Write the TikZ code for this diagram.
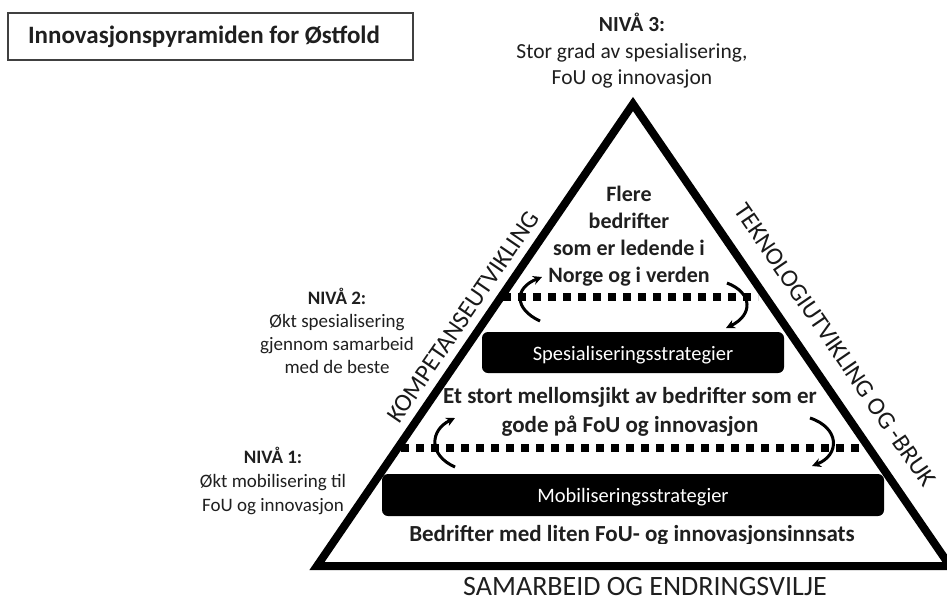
\documentclass[tikz,border=0pt]{standalone}
\usepackage{fontspec}
\setmainfont{Carlito}
\usetikzlibrary{arrows.meta}
\begin{document}
\begin{tikzpicture}[x=1pt,y=-1pt,
  lbl/.style={align=center, inner sep=0pt, text=black!88},
  titlebox/.style={draw=black!75, line width=1.6pt, minimum width=405pt, minimum height=47pt, inner sep=0pt},
  stratbox/.style={fill=black, rounded corners=6pt, inner sep=0pt},
  boxtext/.style={text=white, inner sep=0pt, font=\fontsize{20.5}{24}\selectfont},
  dotline/.style={line width=8pt, dash pattern=on 8pt off 7pt},
  cyc/.style={line width=3pt, -{Stealth[length=9pt,width=9pt]}},
  pyr/.style={line width=8pt, line join=miter},
  sidelbl/.style={inner sep=0pt, text=black!90, font=\fontsize{25}{28}\selectfont}
]
\useasboundingbox (0,0) rectangle (947,603);

% title
\node[titlebox] (titlebox) at (210.5,36.5) {};
\node[lbl, font=\fontsize{25}{28}\selectfont\bfseries] (title) at (204,37) {Innovasjonspyramiden for Østfold};

% pyramid
\coordinate (A) at (633,104);
\coordinate (BL) at (317,566);
\coordinate (BR) at (950,566);
\draw[pyr] (A) -- (BL) -- (BR) -- cycle;

% side labels
\node[sidelbl, rotate=55.6] (komp) at (463,317) {KOMPETANSEUTVIKLING};
\node[sidelbl, rotate=-55.6] (tekn) at (835,345) {TEKNOLOGIUTVIKLING OG -BRUK};
\node[lbl, anchor=base, font=\fontsize{28}{30}\selectfont] (samarb) at (645,595) {SAMARBEID OG ENDRINGSVILJE};

% level 3
\node[lbl, font=\fontsize{21.5}{26.5}\selectfont] (niva3) at (632,51)
  {\textbf{NIVÅ 3:}\\Stor grad av spesialisering,\\FoU og innovasjon};

% inner top text
\node[lbl, font=\fontsize{22}{27}\selectfont\bfseries] (top) at (629,236)
  {Flere\\bedrifter\\som er ledende i\\Norge og i verden};

% top dotted line
\coordinate (d1l) at (503,297);
\coordinate (d1r) at (758,297);
\draw[dotline] (d1l) -- (d1r);

% top cycle arrows
\coordinate (a1s) at (540,321);
\coordinate (a1e) at (542,277);
\draw[cyc] (a1s) .. controls (514,309) and (514,288) .. (a1e);
\coordinate (a2s) at (727,283);
\coordinate (a2e) at (726,328);
\draw[cyc] (a2s) .. controls (753,293) and (753,315) .. (a2e);

% specialisation box
\node[stratbox, minimum width=302pt, minimum height=41pt] (spes) at (633,352.5) {};
\node[boxtext, yshift=-3pt] (spestxt) at (spes.center) {Spesialiseringsstrategier};

% middle text
\node[lbl, font=\fontsize{23}{29}\selectfont\bfseries] (mid) at (630,412)
  {Et stort mellomsjikt av bedrifter som er\\gode på FoU og innovasjon};

% bottom dotted line
\coordinate (d2l) at (401,448);
\coordinate (d2r) at (866,448);
\draw[dotline] (d2l) -- (d2r);

% bottom cycle arrows
\coordinate (b1s) at (455,467);
\coordinate (b1e) at (455,418);
\draw[cyc] (b1s) .. controls (428,455) and (430,430) .. (b1e);
\coordinate (b2s) at (810,418);
\coordinate (b2e) at (812,466);
\draw[cyc] (b2s) .. controls (840,428) and (840,455) .. (b2e);

% mobilisation box
\node[stratbox, minimum width=502pt, minimum height=42pt] (mob) at (633,495) {};
\node[boxtext, yshift=-2pt] (mobtxt) at (mob.center) {Mobiliseringsstrategier};

% bottom text (clipped as in the picture)
\begin{scope}
  \clip (330,515) rectangle (930,543);
  \node[lbl, anchor=base, font=\fontsize{23}{26}\selectfont\bfseries] (low) at (632,541)
    {Bedrifter med liten FoU- og innovasjonsinnsats};
\end{scope}

% left level labels
\node[lbl, font=\fontsize{19}{23}\selectfont] (niva2) at (337,331)
  {\textbf{NIVÅ 2:}\\Økt spesialisering\\gjennom samarbeid\\med de beste};
\node[lbl, font=\fontsize{19}{24}\selectfont] (niva1) at (273,481)
  {\textbf{NIVÅ 1:}\\Økt mobilisering til\\FoU og innovasjon};
\end{tikzpicture}
\end{document}
